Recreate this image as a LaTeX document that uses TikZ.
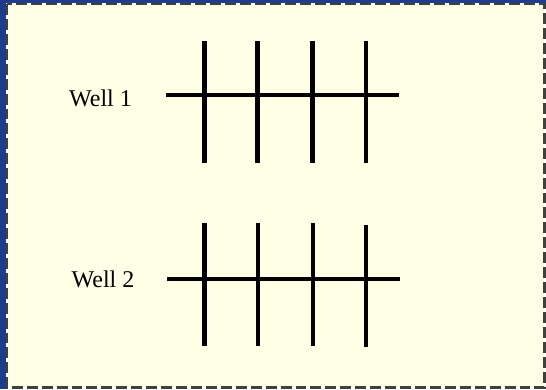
\documentclass[tikz,border=0pt]{standalone}
\usepackage{fontspec}
\setmainfont{Liberation Serif}
\usepackage{tikz}
\usetikzlibrary{positioning}
\definecolor{edgeblue}{HTML}{1F3C8C}
\definecolor{cream}{HTML}{FFFFE6}
\definecolor{framegray}{HTML}{404040}

\begin{document}
\begin{tikzpicture}[x=0.75pt, y=-0.75pt,
  frame/.style={draw=framegray, line width=1.6pt, dash pattern=on 8.2pt off 3pt},
  casing/.style={line width=2.5pt, draw=black},
  perf/.style={line width=3.3pt, draw=black},
  wellname/.style={font=\fontsize{18}{21}\selectfont, anchor=base, inner sep=0pt}
]
  \useasboundingbox (0,0) rectangle (546,389);
  \fill[edgeblue] (0,0) rectangle (546,389);
  \fill[white] (5.5,2.5) rectangle (546,389);
  \fill[cream] (7,4) rectangle (544.5,387.5);
  \draw[frame] (7,4) rectangle (544.5,387.5);

  % first well
  \node[wellname] (well1) at (100.5,106) {Well 1};
  \coordinate (w1west) at (166,95);
  \coordinate (w1east) at (399,95);
  \draw[casing] (w1west) -- (w1east);
  \foreach \x in {204.5,257.5,312.5,366}
    \draw[perf] (\x,41) -- (\x,163);

  % second well
  \node[wellname] (well2) at (103,287) {Well 2};
  \coordinate (w2west) at (167,279);
  \coordinate (w2east) at (400,279);
  \draw[casing] (w2west) -- (w2east);
  \foreach \x/\top/\bot in {204.5/223/346,258/223/346,313/223/346,366/225/347}
    \draw[perf] (\x,\top) -- (\x,\bot);
\end{tikzpicture}
\end{document}
